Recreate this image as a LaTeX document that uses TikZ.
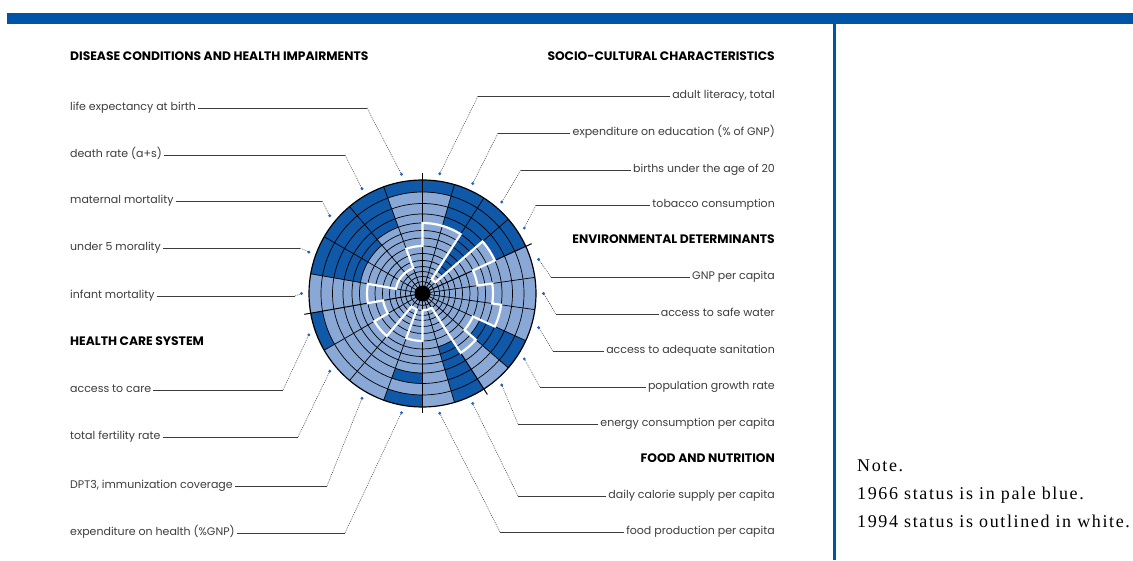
\documentclass[tikz,border=0pt]{standalone}
\usepackage{fontspec}
\setmainfont{Liberation Serif}
\newfontfamily\chartfont{Poppins}
\newfontfamily\notefont[LetterSpace=9]{Liberation Serif}
\usepackage{tikz}
\usetikzlibrary{calc}

\definecolor{barblue}{RGB}{0,84,166}
\definecolor{paleblue}{RGB}{138,168,214}
\definecolor{darkblue}{RGB}{16,88,168}
\definecolor{dotblue}{RGB}{30,100,200}
\definecolor{labelgray}{RGB}{60,60,60}

\tikzset{
  lbl/.style={font=\chartfont\fontsize{11}{13}\selectfont, text=labelgray,
    inner sep=2pt, text height=8pt, text depth=2.5pt},
  head/.style={font=\chartfont\fontsize{12.3}{14}\selectfont\bfseries, inner sep=0pt},
  note/.style={font=\notefont\fontsize{18}{21}\selectfont, anchor=west, inner sep=0pt},
  grid/.style={black, line width=0.7pt},
  divider/.style={black, line width=1pt},
  rim/.style={black, line width=1.2pt},
  outline/.style={white, line width=2.2pt, line join=miter},
  lead/.style={labelgray, line width=0.9pt},
  leaddot/.style={labelgray, line width=0.5pt, dash pattern=on 1pt off 1pt}
}

\begin{document}
\begin{tikzpicture}[x=1pt,y=1pt]
\useasboundingbox (0,0) rectangle (1133,560);
\fill[barblue] (7,536) rectangle (1133,547);
\draw[barblue, line width=2.2pt] (834.5,536) -- (834.5,0);

% headings
\node[head, anchor=west] (disease) at (70,504) {DISEASE CONDITIONS AND HEALTH IMPAIRMENTS};
\node[head, anchor=west] (care) at (70,219) {HEALTH CARE SYSTEM};
\node[head, anchor=east] (socio) at (775,504) {SOCIO-CULTURAL CHARACTERISTICS};
\node[head, anchor=east] (environ) at (775,321) {ENVIRONMENTAL DETERMINANTS};
\node[head, anchor=east] (food) at (775,102) {FOOD AND NUTRITION};

% left labels
\node[lbl, anchor=west] (lifeexp) at (68,452) {life expectancy at birth};
\node[lbl, anchor=west] (death) at (68,405) {death rate (a+s)};
\node[lbl, anchor=west] (maternal) at (68,359) {maternal mortality};
\node[lbl, anchor=west] (under) at (68,312) {under 5 morality};
\node[lbl, anchor=west] (infant) at (68,264) {infant mortality};
\node[lbl, anchor=west] (access) at (68,170) {access to care};
\node[lbl, anchor=west] (fertility) at (68,123) {total fertility rate};
\node[lbl, anchor=west] (dpt) at (68,74) {DPT3, immunization coverage};
\node[lbl, anchor=west] (healthexp) at (68,27) {expenditure on health (\%GNP)};

% right labels
\node[lbl, anchor=east] (literacy) at (777,464) {adult literacy, total};
\node[lbl, anchor=east] (education) at (777,427) {expenditure on education (\% of GNP)};
\node[lbl, anchor=east] (births) at (777,390) {births under the age of 20};
\node[lbl, anchor=east] (tobacco) at (777,355) {tobacco consumption};
\node[lbl, anchor=east] (gnp) at (777,283) {GNP per capita};
\node[lbl, anchor=east] (water) at (777,246) {access to safe water};
\node[lbl, anchor=east] (sanitation) at (777,209) {access to adequate sanitation};
\node[lbl, anchor=east] (growth) at (777,173) {population growth rate};
\node[lbl, anchor=east] (energy) at (777,136) {energy consumption per capita};
\node[lbl, anchor=east] (calorie) at (777,64) {daily calorie supply per capita};
\node[lbl, anchor=east] (foodprod) at (777,28) {food production per capita};

% knees of the leaders
\coordinate (lifeexp-k) at (367,452);
\coordinate (death-k) at (345,405);
\coordinate (maternal-k) at (322,359);
\coordinate (under-k) at (300,312);
\coordinate (infant-k) at (295,264);
\coordinate (access-k) at (283,170);
\coordinate (fertility-k) at (298,123);
\coordinate (dpt-k) at (327,74);
\coordinate (healthexp-k) at (345,27);
\coordinate (literacy-k) at (478,464);
\coordinate (education-k) at (498,427);
\coordinate (births-k) at (521,390);
\coordinate (tobacco-k) at (536,355);
\coordinate (gnp-k) at (551,283);
\coordinate (water-k) at (556,246);
\coordinate (sanitation-k) at (553,209);
\coordinate (growth-k) at (540,173);
\coordinate (energy-k) at (518,136);
\coordinate (calorie-k) at (518,64);
\coordinate (foodprod-k) at (500,28);

% the wheel
\begin{scope}[shift={(422.5,266.5)}]
  \fill[paleblue] (0,0) circle (113.5);
  % 1966 status: dark beyond the pale part
  \foreach \s/\e/\p/\q in {90/73.636/101.5/113.5, 73.636/57.273/70.5/113.5,
      57.273/40.909/27/113.5, 40.909/24.545/79.5/113.5, -24.545/-40.909/63/113.5,
      -57.273/-73.636/55.5/113.5, -90/-110/79.5/90, -90/-110/101.5/113.5,
      -150/-170/101.5/113.5, -190/-210/63/113.5, -210/-230/63/113.5,
      -230/-250/70.5/113.5, -250/-270/101.5/113.5}
    \fill[darkblue] (\s:\p) arc (\s:\e:\p) -- (\e:\q) arc (\e:\s:\q) -- cycle;
  \foreach \r in {12,17,22,27,33,40,47.5,55.5,63,70.5,79.5,90,101.5}
    \draw[grid] (0,0) circle (\r);
  \foreach \a in {73.636,57.273,40.909,8.182,-8.182,-24.545,-40.909,-73.636,
      -110,-130,-150,-190,-210,-230,-250}
    \draw[grid] (0,0) -- (\a:113.5);
  \foreach \a in {90,-90,24.545,-57.273,-170}
    \draw[divider] (0,0) -- (\a:120);
  \draw[rim] (0,0) circle (113.5);
  % 1994 status
  \draw[outline] (90:70.5) \foreach \s/\e/\w in {90/73.636/70.5, 73.636/57.273/70.5,
      57.273/40.909/17, 40.909/24.545/79.5, 24.545/8.182/55.5, 8.182/-8.182/70.5,
      -8.182/-24.545/79.5, -24.545/-40.909/55.5, -40.909/-57.273/70.5,
      -57.273/-73.636/17, -73.636/-90/17, -90/-110/47.5, -110/-130/17,
      -130/-150/55.5, -150/-170/40, -170/-190/55.5, -190/-210/27,
      -210/-230/27, -230/-250/27, -250/-270/47.5}
    { -- (\s:\w) arc (\s:\e:\w) } -- cycle;
  \fill (0,0) circle (8);
  % ends of the leaders
  \coordinate (lifeexp-d) at (100:121);
  \coordinate (death-d) at (120:121);
  \coordinate (maternal-d) at (140:121);
  \coordinate (under-d) at (160:121);
  \coordinate (infant-d) at (180:121);
  \coordinate (access-d) at (200:121);
  \coordinate (fertility-d) at (220:121);
  \coordinate (dpt-d) at (240:121);
  \coordinate (healthexp-d) at (260:121);
  \coordinate (literacy-d) at (81.818:121);
  \coordinate (education-d) at (65.455:121);
  \coordinate (births-d) at (49.091:121);
  \coordinate (tobacco-d) at (32.727:121);
  \coordinate (gnp-d) at (16.364:121);
  \coordinate (water-d) at (0:121);
  \coordinate (sanitation-d) at (-16.364:121);
  \coordinate (growth-d) at (-32.727:121);
  \coordinate (energy-d) at (-49.091:121);
  \coordinate (calorie-d) at (-65.455:121);
  \coordinate (foodprod-d) at (-81.818:121);
\end{scope}

% leaders
\foreach \n in {lifeexp,death,maternal,under,infant,access,fertility,dpt,healthexp,
    literacy,education,births,tobacco,gnp,water,sanitation,growth,energy,calorie,foodprod}
  {
  \draw[lead] (\n) -- (\n-k);
  \draw[leaddot] (\n-k) -- (\n-d);
  \fill[dotblue] (\n-d) circle (1.6);
  }

% note
\node[note] (notehead) at (857,94) {Note.};
\node[note] (note1966) at (857,65) {1966 status is in pale blue.};
\node[note] (note1994) at (857,39) {1994 status is outlined in white.};
\end{tikzpicture}
\end{document}
